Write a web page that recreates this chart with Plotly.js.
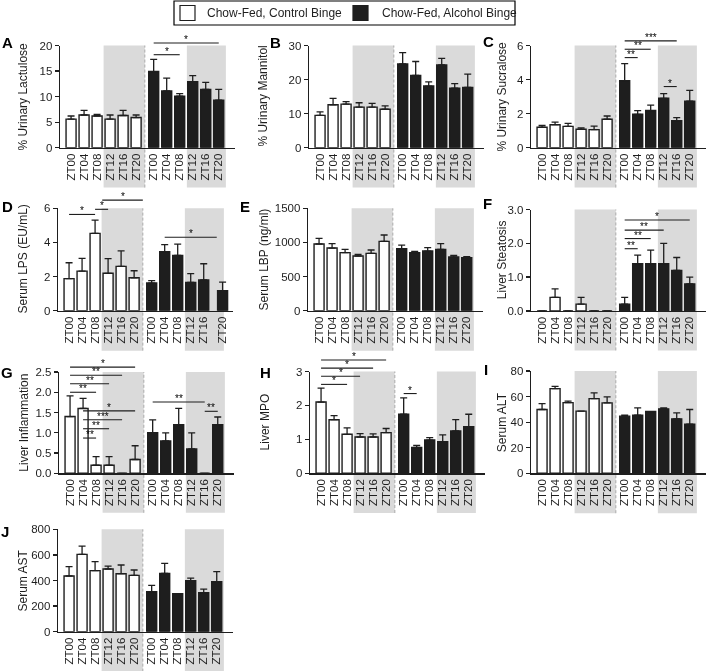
<!DOCTYPE html>
<html><head><meta charset="utf-8">
<script src="https://cdn.plot.ly/plotly-3.0.1.min.js"></script>
<style>html,body{margin:0;padding:0;background:#fff}#chart{width:706px;height:671px;will-change:transform}</style>
</head><body><div id="chart"></div>
<script>
// ---------------- DATA ----------------
const timepoints = ['ZT00','ZT04','ZT08','ZT12','ZT16','ZT20'];
const seriesNames = ['Chow-Fed, Control Binge','Chow-Fed, Alcohol Binge'];

// A  % Urinary Lactulose
const lactuloseControl = [5.6,6.4,6.2,5.6,6.3,5.9];
const lactuloseControlErr = [0.6,0.9,0.3,0.8,1.0,0.5];
const lactuloseAlcohol = [14.9,11.1,10.1,12.9,11.4,9.3];
const lactuloseAlcoholErr = [2.4,2.5,0.5,1.2,1.4,2.1];
const lactuloseSig = [['alc',0,5,20.5,'*'],['alc',0,2,18.2,'*']];

// B  % Urinary Mannitol
const mannitolControl = [9.5,12.6,12.8,11.9,11.9,11.3];
const mannitolControlErr = [1.0,1.9,0.7,1.3,1.1,1.0];
const mannitolAlcohol = [24.6,21.2,18.1,24.3,17.5,17.7];
const mannitolAlcoholErr = [3.3,4.1,1.2,1.9,1.3,3.9];
const mannitolSig = [];

// C  % Urinary Sucralose
const sucraloseControl = [1.2,1.35,1.25,1.08,1.06,1.67];
const sucraloseControlErr = [0.11,0.15,0.18,0.08,0.21,0.19];
const sucraloseAlcohol = [3.94,1.96,2.18,2.9,1.59,2.73];
const sucraloseAlcoholErr = [1.0,0.22,0.32,0.28,0.17,0.64];
const sucraloseSig = [['alc',0,4,6.27,'***'],['alc',0,2,5.78,'**'],['alc',0,1,5.29,'**'],['alc',3,4,3.59,'*']];

// D  Serum LPS (EU/mL)
const lpsControl = [1.88,2.32,4.53,2.19,2.6,1.93];
const lpsControlErr = [0.93,0.75,0.78,0.86,0.9,0.41];
const lpsAlcohol = [1.62,3.46,3.24,1.66,1.8,1.17];
const lpsAlcoholErr = [0.14,0.41,0.66,0.51,0.95,0.51];
const lpsSig = [['ctl',0,2,5.64,'*'],['ctl',2,3,5.94,'*'],['ctl',2.55,5.67,6.48,'*'],['alc',1,5,4.3,'*']];

// E  Serum LBP (ng/ml)
const lbpControl = [977,918,850,801,840,1016];
const lbpControlErr = [83,64,49,25,49,93];
const lbpAlcohol = [909,850,874,899,787,776];
const lbpAlcoholErr = [53,20,49,83,24,14];
const lbpSig = [];

// F  Liver Steatosis
const steatosisControl = [0,0.4,0,0.2,0,0];
const steatosisControlErr = [0,0.25,0,0.2,0,0];
const steatosisAlcohol = [0.2,1.4,1.4,1.4,1.2,0.8];
const steatosisAlcoholErr = [0.2,0.25,0.4,0.6,0.38,0.2];
const steatosisSig = [['alc',0,5,2.69,'*'],['alc',0,3,2.39,'**'],['alc',0,2,2.14,'**'],['alc',0,1,1.84,'**']];

// G  Liver Inflammation
const inflammationControl = [1.4,1.6,0.2,0.2,0,0.34];
const inflammationControlErr = [0.51,0.25,0.21,0.21,0,0.34];
const inflammationAlcohol = [1.0,0.8,1.2,0.6,0,1.2];
const inflammationAlcoholErr = [0.32,0.2,0.4,0.4,0,0.19];
const inflammationSig = [['ctl',0,5,2.62,'*'],['ctl',0,4,2.42,'**'],['ctl',0,3,2.21,'**'],['ctl',0,2,2.0,'**'],
  ['ctl',1,5,1.54,'*'],['ctl',1,4,1.32,'***'],['ctl',1,3,1.1,'**'],['ctl',1,2,0.87,'**'],
  ['alc',0,4,1.76,'**'],['alc',4,5,1.53,'**']];

// H  Liver MPO
const mpoControl = [2.1,1.58,1.15,1.07,1.07,1.2];
const mpoControlErr = [0.41,0.12,0.19,0.1,0.09,0.12];
const mpoAlcohol = [1.74,0.76,0.98,0.93,1.25,1.37];
const mpoAlcoholErr = [0.48,0.06,0.07,0.2,0.33,0.37];
const mpoSig = [['ctl',0,5,3.34,'*'],['ctl',0,4,3.1,'*'],['ctl',0,3,2.86,'*'],['ctl',0,2,2.62,'*'],['alc',0,1,2.35,'*']];

// I  Serum ALT
const altControl = [49.9,66.2,55.3,48.6,58.4,55.1];
const altControlErr = [4.6,1.8,1.1,0,4.5,4.6];
const altAlcohol = [44.7,45.5,48.3,50.4,42.6,38.4];
const altAlcoholErr = [0.8,5.7,0,0.8,4.7,11.5];
const altSig = [];

// J  Serum AST
const astControl = [435,604,477,490,453,440];
const astControlErr = [73,65,70,23,68,42];
const astAlcohol = [313,456,297,398,305,391];
const astAlcoholErr = [49,78,0,21,28,78];
const astSig = [];

const panels = [
  {id:'A', title:'% Urinary Lactulose', ctl:lactuloseControl, ctlErr:lactuloseControlErr, alc:lactuloseAlcohol, alcErr:lactuloseAlcoholErr, sig:lactuloseSig, ymax:20, dtick:5, fmt:''},
  {id:'B', title:'% Urinary Mannitol', ctl:mannitolControl, ctlErr:mannitolControlErr, alc:mannitolAlcohol, alcErr:mannitolAlcoholErr, sig:mannitolSig, ymax:30, dtick:10, fmt:''},
  {id:'C', title:'% Urinary Sucralose', ctl:sucraloseControl, ctlErr:sucraloseControlErr, alc:sucraloseAlcohol, alcErr:sucraloseAlcoholErr, sig:sucraloseSig, ymax:6, dtick:2, fmt:''},
  {id:'D', title:'Serum LPS (EU/mL)', ctl:lpsControl, ctlErr:lpsControlErr, alc:lpsAlcohol, alcErr:lpsAlcoholErr, sig:lpsSig, ymax:6, dtick:2, fmt:''},
  {id:'E', title:'Serum LBP (ng/ml)', ctl:lbpControl, ctlErr:lbpControlErr, alc:lbpAlcohol, alcErr:lbpAlcoholErr, sig:lbpSig, ymax:1500, dtick:500, fmt:''},
  {id:'F', title:'Liver Steatosis', ctl:steatosisControl, ctlErr:steatosisControlErr, alc:steatosisAlcohol, alcErr:steatosisAlcoholErr, sig:steatosisSig, ymax:3, dtick:1, fmt:'.1f'},
  {id:'G', title:'Liver Inflammation', ctl:inflammationControl, ctlErr:inflammationControlErr, alc:inflammationAlcohol, alcErr:inflammationAlcoholErr, sig:inflammationSig, ymax:2.5, dtick:0.5, fmt:'.1f'},
  {id:'H', title:'Liver MPO', ctl:mpoControl, ctlErr:mpoControlErr, alc:mpoAlcohol, alcErr:mpoAlcoholErr, sig:mpoSig, ymax:3, dtick:1, fmt:''},
  {id:'I', title:'Serum ALT', ctl:altControl, ctlErr:altControlErr, alc:altAlcohol, alcErr:altAlcoholErr, sig:altSig, ymax:80, dtick:20, fmt:''},
  {id:'J', title:'Serum AST', ctl:astControl, ctlErr:astControlErr, alc:astAlcohol, alcErr:astAlcoholErr, sig:astSig, ymax:800, dtick:200, fmt:''}
];

// ---------------- LAYOUT GEOMETRY (pixels) ----------------
const W = 706, H = 671, PW = 175;
const boxes = {
  A:{left:60, top:45.5, bottom:147.7, letter:[7,42],  tx:23, lastShift:0},
  B:{left:309,top:45.5, bottom:147.7, letter:[275,43], tx:263, lastShift:0},
  C:{left:531,top:45.5, bottom:147.7, letter:[488,41], tx:502, lastShift:0},
  D:{left:58, top:208.3,bottom:310.7, letter:[7,206],  tx:23, lastShift:0.45},
  E:{left:308,top:208.3,bottom:310.7, letter:[245,206], tx:264, lastShift:0},
  F:{left:531,top:209.5,bottom:310.9, letter:[487,204], tx:502, lastShift:0},
  G:{left:59, top:372,  bottom:473.3, letter:[7,372],  tx:24, lastShift:0},
  H:{left:310,top:371.5,bottom:473.3, letter:[265,372], tx:265, lastShift:0},
  I:{left:531,top:371,  bottom:473.3, letter:[486,369], tx:502, lastShift:0},
  J:{left:58, top:529.3,bottom:631.7, letter:[5,531],  tx:22, lastShift:0}
};
const groupOffset = 6.35;
const xCtl = timepoints.map((t,i)=>i);
const xAlcBase = timepoints.map((t,i)=>i+groupOffset);
const dividerX = 5.67;
const xRange = [-0.85, 12.6];
const belowDomain = -0.39;

const FONT = 'Liberation Sans, Arial, Helvetica, sans-serif';
const INK = '#1e1e1e';
const GRAY = '#dadada';
const zeros = timepoints.map(()=>0);

const traces = [], shapes = [], annotations = [];
const layout = {
  width: W, height: H, margin:{l:0,r:0,t:0,b:0},
  paper_bgcolor:'#fff', plot_bgcolor:'rgba(0,0,0,0)',
  showlegend:false, font:{family:FONT, color:INK}, bargap:0
};

panels.forEach((p, i) => {
  const n = i + 1;
  const sfx = n === 1 ? '' : String(n);
  const xa = 'x' + sfx, ya = 'y' + sfx;
  const b = boxes[p.id];
  const xAlc = xAlcBase.map((v,k)=> k === xAlcBase.length - 1 ? v + b.lastShift : v);
  layout['xaxis' + sfx] = {
    domain:[b.left / W, (b.left + PW) / W], anchor: ya, range: xRange,
    tickvals: xCtl.concat(xAlc), ticktext: timepoints.concat(timepoints),
    tickangle: -90, ticks:'', showline:true, linecolor:INK, linewidth:1.3,
    showgrid:false, zeroline:false, fixedrange:true,
    tickfont:{family:FONT, size:11.5, color:INK}
  };
  layout['yaxis' + sfx] = {
    domain:[1 - b.bottom / H, 1 - b.top / H], anchor: xa, range:[0, p.ymax],
    tick0:0, dtick:p.dtick, tickformat:p.fmt, ticks:'outside', ticklen:4, tickwidth:1.3,
    tickcolor:INK, showline:true, linecolor:INK, linewidth:1.3,
    showgrid:false, zeroline:false, fixedrange:true,
    tickfont:{family:FONT, size:11.5, color:INK}
  };
  const errStyle = {type:'data', symmetric:false, arrayminus:zeros, color:INK, thickness:1.3, width:3.5};
  traces.push({type:'bar', name:seriesNames[0], x:xCtl, y:p.ctl, xaxis:xa, yaxis:ya, width:0.77,
    marker:{color:'#ffffff', line:{color:INK, width:1.4}},
    error_y:Object.assign({array:p.ctlErr}, errStyle), hoverinfo:'skip'});
  traces.push({type:'bar', name:seriesNames[1], x:xAlc, y:p.alc, xaxis:xa, yaxis:ya, width:0.77,
    marker:{color:INK, line:{color:INK, width:1.4}},
    error_y:Object.assign({array:p.alcErr}, errStyle), hoverinfo:'skip'});

  // dark-phase shading (ZT12-ZT20) for each group, extending under the tick labels
  shapes.push({type:'rect', layer:'below', xref:xa, yref:ya + ' domain',
    x0:xCtl[3] - 0.5, x1:dividerX, y0:belowDomain, y1:1, fillcolor:GRAY, line:{width:0}});
  shapes.push({type:'rect', layer:'below', xref:xa, yref:ya + ' domain',
    x0:xAlcBase[3] - 0.45, x1:xAlcBase[5] + 0.55, y0:belowDomain, y1:1, fillcolor:GRAY, line:{width:0}});
  // group divider
  shapes.push({type:'line', layer:'below', xref:xa, yref:ya + ' domain',
    x0:dividerX, x1:dividerX, y0:belowDomain, y1:1, line:{color:'#aaaaaa', width:1, dash:'3px,2px'}});

  // significance brackets
  p.sig.forEach(s => {
    const base = s[0] === 'alc' ? groupOffset : 0;
    const x0 = base + s[1], x1 = base + s[2];
    const yd = s[3] / p.ymax;
    shapes.push({type:'line', layer:'above', xref:xa, yref:ya + ' domain',
      x0:x0, x1:x1, y0:yd, y1:yd, line:{color:INK, width:1.1}});
    annotations.push({xref:xa, yref:ya + ' domain', x:(x0 + x1) / 2, y:yd, text:s[4],
      showarrow:false, xanchor:'center', yanchor:'bottom', yshift:-4,
      font:{family:FONT, size:10, color:'#000'}});
  });

  // panel letter
  annotations.push({xref:'paper', yref:'paper', x:b.letter[0] / W, y:1 - b.letter[1] / H, text:'<b>' + p.id + '</b>',
    showarrow:false, xanchor:'center', yanchor:'middle', font:{family:FONT, size:15, color:'#000'}});
  // y-axis title
  annotations.push({xref:'paper', yref:'paper', x:b.tx / W, y:1 - (b.top + b.bottom) / 2 / H, text:p.title,
    textangle:-90, showarrow:false, xanchor:'center', yanchor:'middle', font:{family:FONT, size:12, color:INK}});
});

// legend box (drawn manually)
const legBox = {x0:174, x1:515, y0:1, y1:25};
shapes.push({type:'rect', xref:'paper', yref:'paper', layer:'above',
  x0:legBox.x0 / W, x1:legBox.x1 / W, y0:1 - legBox.y1 / H, y1:1 - legBox.y0 / H,
  line:{color:'#000', width:1.2}, fillcolor:'rgba(0,0,0,0)'});
const legItems = [{sq:180, tx:205, fill:'#ffffff'}, {sq:353, tx:380, fill:INK}];
legItems.forEach((it, k) => {
  shapes.push({type:'rect', xref:'paper', yref:'paper', layer:'above',
    x0:it.sq / W, x1:(it.sq + 15) / W, y0:1 - 20.5 / H, y1:1 - 5.5 / H,
    line:{color:INK, width:1.2}, fillcolor:it.fill});
  annotations.push({xref:'paper', yref:'paper', x:it.tx / W, y:1 - 13 / H, text:seriesNames[k],
    showarrow:false, xanchor:'left', yanchor:'middle', font:{family:FONT, size:12, color:INK}});
});

layout.shapes = shapes;
layout.annotations = annotations;
Plotly.newPlot('chart', traces, layout, {staticPlot:true, displayModeBar:false});
</script>
</body></html>
